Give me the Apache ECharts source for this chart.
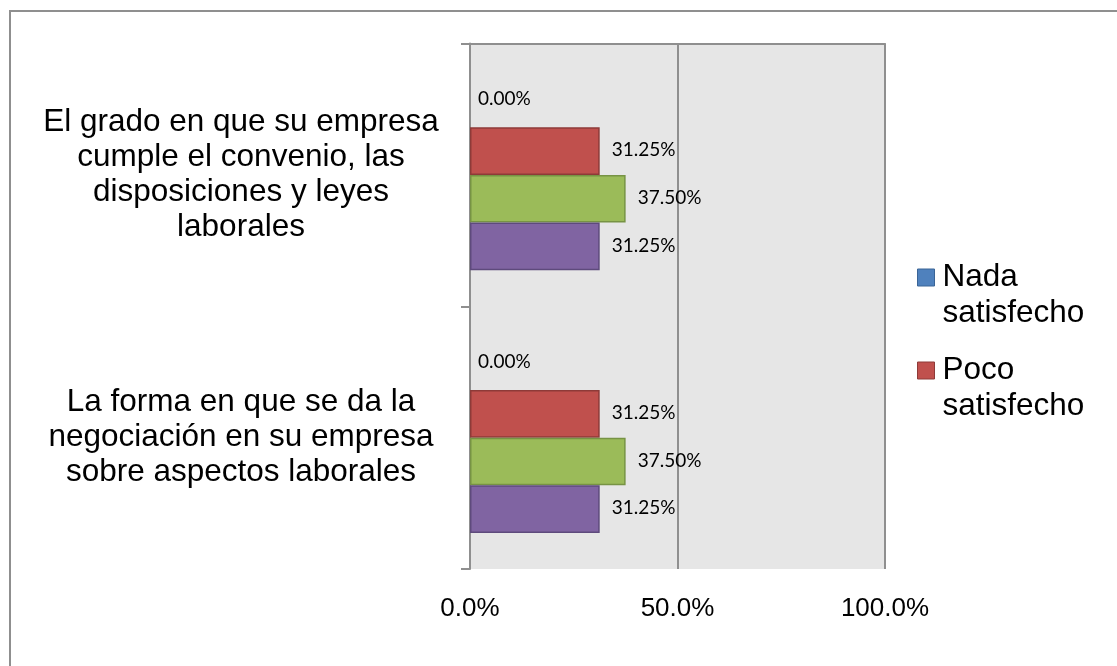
<!DOCTYPE html>
<html>
<head>
<meta charset="utf-8">
<script src="https://cdn.jsdelivr.net/npm/echarts@6/dist/echarts.min.js"></script>
<style>
html,body{margin:0;padding:0;background:#fff;}
#c{width:1117px;height:666px;}
</style>
</head>
<body>
<div id="c"></div>
<script>
// Categories (bottom to top, as on a category y axis)
const categories = [
  'La forma en que se da la\nnegociación en su empresa\nsobre aspectos laborales',
  'El grado en que su empresa\ncumple el convenio, las\ndisposiciones y leyes\nlaborales'
];
const seriesNames = ['Nada satisfecho', 'Poco satisfecho', 'Satisfecho', 'Muy satisfecho'];
const nadaValues = [0.0, 0.0];
const pocoValues = [0.3125, 0.3125];
const satisValues = [0.375, 0.375];
const muyValues = [0.3125, 0.3125];
const xTicks = [0, 0.5, 1];
const legendNames = ['Nada satisfecho', 'Poco satisfecho'];

const colors = ['#4F81BD', '#C0504D', '#9BBB59', '#8064A2'];
const borders = ['#3A6496', '#8E3A38', '#779344', '#5E4A7C'];
const values = [nadaValues, pocoValues, satisValues, muyValues];

const chart = echarts.init(document.getElementById('c'));
const gridColor = '#8F8F8F';

const series = seriesNames.map((name, i) => ({
  name: name,
  type: 'bar',
  data: values[i],
  barGap: '0%',
  barCategoryGap: '27.4%',
  itemStyle: { color: colors[i], borderColor: borders[i], borderWidth: i === 0 ? 0 : 1.5 },
  label: {
    show: true,
    position: 'right',
    distance: i === 0 ? 8 : 12,
    offset: i === 0 ? [0, -4] : [0, -1],
    fontFamily: 'Lato',
    fontSize: 19,
    color: '#000',
    formatter: p => (p.value * 100).toFixed(2) + '%'
  }
}));

chart.setOption({
  animation: false,
  backgroundColor: '#fff',
  color: colors,
  graphic: [{
    type: 'rect',
    shape: { x: 10, y: 11, width: 1200, height: 800 },
    style: { fill: 'none', stroke: '#8F8F8F', lineWidth: 2 },
    z: -10
  }],
  grid: {
    left: 470, right: 232, top: 43.5, bottom: 97,
    show: true, backgroundColor: '#E6E6E6', borderWidth: 0
  },
  legend: {
    data: legendNames.map(n => {
      const i = seriesNames.indexOf(n);
      return { name: n, itemStyle: { color: colors[i], borderColor: borders[i], borderWidth: 1 } };
    }),
    orient: 'vertical',
    left: 917,
    top: 223.5,
    padding: 0,
    itemWidth: 17,
    itemHeight: 17,
    itemGap: -15,
    icon: 'rect',
    formatter: n => '\n' + n.replace(' ', '\n'),
    textStyle: {
      fontFamily: 'Liberation Sans, Arial',
      fontSize: 31.5,
      lineHeight: 36,
      color: '#000',
      padding: [0, 0, 0, 3]
    }
  },
  xAxis: [{
    type: 'value',
    min: xTicks[0],
    max: xTicks[xTicks.length - 1],
    interval: xTicks[1] - xTicks[0],
    axisLine: { show: false },
    axisTick: { show: false },
    splitLine: { show: true, lineStyle: { color: gridColor, width: 2 } },
    axisLabel: {
      margin: 27,
      fontFamily: 'Liberation Sans, Arial',
      fontSize: 26,
      color: '#000',
      formatter: v => (v * 100).toFixed(1) + '%'
    }
  }, {
    type: 'value',
    position: 'top',
    min: xTicks[0],
    max: xTicks[xTicks.length - 1],
    interval: xTicks[1] - xTicks[0],
    axisLine: { show: true, lineStyle: { color: gridColor, width: 2 } },
    axisTick: { show: false },
    axisLabel: { show: false },
    splitLine: { show: false }
  }],
  yAxis: {
    type: 'category',
    data: categories,
    axisLine: { show: true, lineStyle: { color: gridColor, width: 2 } },
    axisTick: { show: true, length: 9, lineStyle: { color: gridColor, width: 2 } },
    axisLabel: {
      margin: 229,
      align: 'center',
      fontFamily: 'Liberation Sans, Arial',
      fontSize: 31.5,
      lineHeight: 35,
      color: '#000'
    }
  },
  series: series
});
</script>
</body>
</html>
